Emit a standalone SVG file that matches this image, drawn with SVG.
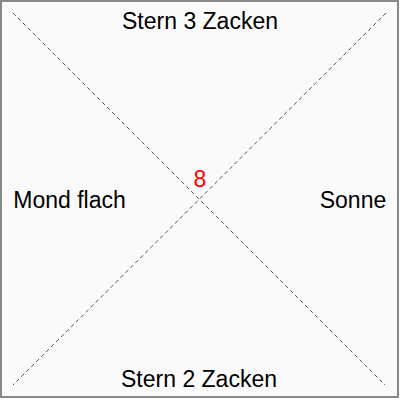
<svg xmlns="http://www.w3.org/2000/svg" width="400" height="400" viewBox="0 0 400 400">
<style>
.lbl{font-family:"Liberation Sans",Arial,sans-serif;font-size:23px;fill:#000;text-anchor:middle}
.dash{stroke:#555;stroke-width:1;stroke-dasharray:4 3;fill:none}
</style>
<rect x="1" y="1" width="397" height="396" fill="#fafafa" stroke="#888" stroke-width="2"/>
<g id="connectors">
<line class="dash" x1="13" y1="13" x2="385" y2="385"/>
<line class="dash" x1="386" y1="13" x2="13" y2="385"/>
</g>
<g id="top"><text class="lbl" x="200" y="29">Stern 3 Zacken</text></g>
<g id="bottom"><text class="lbl" x="199" y="387">Stern 2 Zacken</text></g>
<g id="left"><text class="lbl" x="69.5" y="208">Mond flach</text></g>
<g id="right"><text class="lbl" x="353" y="208">Sonne</text></g>
<g id="center"><text class="lbl" x="200" y="187" style="fill:#f00">8</text></g>
</svg>
